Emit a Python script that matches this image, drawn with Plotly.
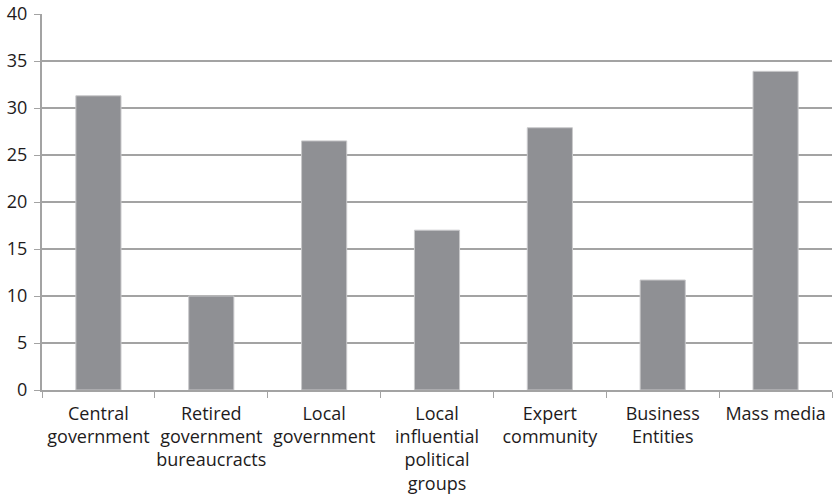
import plotly.graph_objects as go

# Categories (multi-line axis labels) and their values
categories = [
    "Central<br>government",
    "Retired<br>government<br>bureaucracts",
    "Local<br>government",
    "Local<br>influential<br>political<br>groups",
    "Expert<br>community",
    "Business<br>Entities",
    "Mass media",
]
values = [31.3, 10.0, 26.5, 17.0, 27.9, 11.7, 33.9]
y_ticks = [0, 5, 10, 15, 20, 25, 30, 35, 40]

grid_col = "#a3a3a3"
text_col = "#1e1b1c"

fig = go.Figure(
    go.Bar(
        x=categories,
        y=values,
        marker=dict(color="#8f9094", line=dict(color="#c9c9cb", width=1)),
        width=0.4,
    )
)

fig.update_layout(
    width=833,
    height=501,
    margin=dict(l=42, r=1, t=14, b=111),
    paper_bgcolor="white",
    plot_bgcolor="white",
    showlegend=False,
    font=dict(family="Open Sans", color=text_col),
)

fig.update_xaxes(
    tickson="boundaries",
    ticks="outside",
    ticklen=6,
    tickcolor=grid_col,
    showline=True,
    linecolor=grid_col,
    linewidth=2,
    showgrid=False,
    tickangle=0,
    tickfont=dict(size=18, color=text_col),
    ticklabelstandoff=6,
)

fig.update_yaxes(
    range=[0, 40],
    tickvals=y_ticks,
    ticks="outside",
    ticklen=6,
    tickcolor=grid_col,
    showline=True,
    linecolor=grid_col,
    linewidth=2,
    showgrid=True,
    gridcolor=grid_col,
    gridwidth=2,
    zeroline=False,
    tickfont=dict(size=18, color=text_col),
    ticklabelstandoff=3,
)

fig.write_html("out.html")
